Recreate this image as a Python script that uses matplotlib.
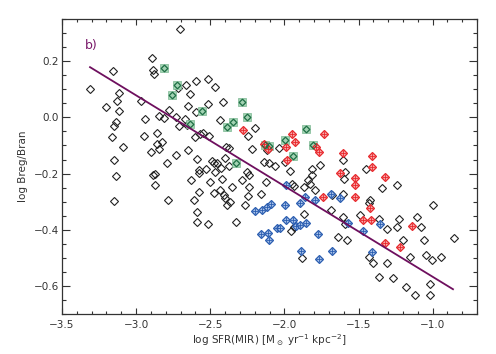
import numpy as np
import matplotlib.pyplot as plt

# black diamonds: galaxies without sub-selection
black_x = [-2.703, -2.895, -3.153, -2.887, -2.880, -3.311, -2.595, -2.518, -2.466, -2.666,
           -2.716, -2.640, -3.118, -3.130, -2.966, -3.206, -3.113, -2.779, -2.649, -2.517,
           -2.414, -2.595, -2.847, -2.811, -2.939, -2.730, -2.669, -2.437, -2.659, -3.135,
           -3.147, -3.166, -2.946, -2.860, -2.714, -2.605, -2.568, -2.551, -2.507, -3.091,
           -2.858, -2.824, -2.847, -2.897, -3.150, -2.730, -2.652, -2.791, -2.591, -3.133,
           -2.874, -2.885, -2.875, -2.632, -2.576, -3.147, -2.787, -2.608, -2.588, -2.578,
           -2.590, -2.518, -2.505, -2.478, -2.432, -2.419, -2.405, -2.370, -2.353, -2.326,
           -2.289, -2.264, -2.241, -2.196, -2.248, -2.392, -2.372, -2.218, -2.039, -2.117,
           -2.489, -2.478, -2.455, -2.399, -2.376, -2.426, -2.527, -2.579, -2.466, -2.252,
           -2.236, -2.140, -2.101, -2.061, -1.998, -1.813, -1.757, -1.813, -1.840, -2.124,
           -2.399, -2.248, -2.155, -1.937, -1.948, -1.824, -1.791, -1.865, -2.387, -1.959,
           -1.867, -1.678, -1.689, -1.937, -1.953, -1.878, -1.637, -1.581, -1.603, -1.592,
           -1.493, -1.424, -1.429, -1.345, -1.243, -1.363, -1.311, -1.240, -1.226, -1.105,
           -1.081, -0.997, -1.199, -1.057, -0.859, -1.432, -1.403, -1.311, -1.153, -1.047,
           -1.005, -0.946, -1.361, -1.266, -1.181, -1.017, -1.117, -1.017, -1.606, -1.588,
           -1.595, -1.453, -1.603]
black_y = [0.316, 0.210, 0.167, 0.169, 0.156, 0.101, 0.131, 0.137, 0.107, 0.115,
           0.104, 0.082, 0.087, 0.060, 0.058, 0.036, 0.023, 0.027, 0.041, 0.048,
           0.054, 0.018, 0.005, -0.003, -0.006, 0.001, -0.006, -0.010, -0.028, -0.018,
           -0.031, -0.069, -0.066, -0.057, -0.031, -0.069, -0.060, -0.057, -0.067, -0.106,
           -0.095, -0.086, -0.111, -0.123, -0.151, -0.135, -0.117, -0.164, -0.147, -0.209,
           -0.200, -0.205, -0.239, -0.222, -0.188, -0.298, -0.295, -0.294, -0.336, -0.266,
           -0.371, -0.379, -0.231, -0.268, -0.260, -0.218, -0.275, -0.300, -0.248, -0.371,
           -0.224, -0.313, -0.248, -0.036, -0.067, -0.105, -0.109, -0.111, -0.109, -0.117,
           -0.156, -0.162, -0.164, -0.144, -0.174, -0.180, -0.185, -0.199, -0.194, -0.194,
           -0.206, -0.159, -0.164, -0.173, -0.159, -0.182, -0.170, -0.206, -0.224, -0.230,
           -0.286, -0.280, -0.271, -0.245, -0.236, -0.236, -0.260, -0.343, -0.313, -0.191,
           -0.247, -0.278, -0.331, -0.391, -0.403, -0.501, -0.426, -0.436, -0.355, -0.379,
           -0.346, -0.293, -0.304, -0.251, -0.242, -0.361, -0.396, -0.392, -0.361, -0.355,
           -0.392, -0.311, -0.436, -0.438, -0.429, -0.498, -0.519, -0.518, -0.496, -0.491,
           -0.507, -0.496, -0.567, -0.572, -0.603, -0.594, -0.634, -0.632, -0.150, -0.196,
           -0.220, -0.182, -0.271]

green_x = [-2.814, -2.723, -2.757, -2.554, -2.287, -2.250, -2.347, -2.389, -2.634, -1.851,
           -1.997, -2.128, -2.105, -1.806, -1.941, -2.328]
green_y = [0.176, 0.115, 0.080, 0.024, 0.056, 0.001, -0.018, -0.034, -0.025, -0.042,
           -0.081, -0.097, -0.101, -0.098, -0.138, -0.163]

red_x = [-2.279, -1.951, -1.735, -1.928, -1.990, -2.137, -2.108, -1.785, -1.764, -1.984,
         -1.606, -1.412, -1.411, -1.624, -1.524, -1.322, -1.525, -1.525, -1.741, -1.424,
         -1.472, -1.414, -1.137, -1.320, -1.221]
red_y = [-0.046, -0.060, -0.060, -0.088, -0.105, -0.096, -0.114, -0.104, -0.122, -0.151,
         -0.127, -0.137, -0.178, -0.197, -0.217, -0.213, -0.241, -0.284, -0.284, -0.323,
         -0.367, -0.367, -0.388, -0.448, -0.460]

blue_x = [-1.990, -2.199, -2.151, -2.118, -2.088, -1.998, -1.897, -1.858, -1.791, -1.689,
          -1.626, -2.157, -2.110, -2.103, -2.053, -2.028, -1.986, -1.939, -1.919, -1.897,
          -1.855, -1.772, -1.890, -1.765, -1.682, -1.570, -1.472, -1.358, -1.407]
blue_y = [-0.241, -0.335, -0.331, -0.320, -0.310, -0.312, -0.304, -0.285, -0.293, -0.272,
          -0.286, -0.414, -0.410, -0.435, -0.393, -0.394, -0.366, -0.367, -0.388, -0.383,
          -0.376, -0.416, -0.475, -0.504, -0.476, -0.375, -0.405, -0.379, -0.479]

# linear fit
fit_range = [-3.311, -0.863]
fit_slope = -0.323
fit_intercept = -0.8905

plt.rcParams['font.family'] = 'DejaVu Sans'
fig = plt.figure(figsize=(4.96, 3.54), dpi=100, facecolor="white")
ax = fig.add_axes([0.125, 0.113, 0.837, 0.833])

ms = 3.8
ax.plot(black_x, black_y, linestyle="none", marker="D", markersize=ms,
        markerfacecolor="none", markeredgecolor="#222222", markeredgewidth=0.8, zorder=3)

ax.plot(green_x, green_y, linestyle="none", marker="s", markersize=5.8,
        markerfacecolor="#a3d3b3", markeredgecolor="#7cb893", markeredgewidth=0.5, zorder=4)
ax.plot(green_x, green_y, linestyle="none", marker="D", markersize=3.4,
        markerfacecolor="none", markeredgecolor="#1e6e45", markeredgewidth=0.9, zorder=5)

ax.plot(red_x, red_y, linestyle="none", marker="D", markersize=ms,
        markerfacecolor="#f6a9a9", markeredgecolor="#e8262b", markeredgewidth=0.9, zorder=4)
ax.plot(red_x, red_y, linestyle="none", marker="+", markersize=4,
        markeredgecolor="#e8262b", markeredgewidth=0.6, zorder=5)

ax.plot(blue_x, blue_y, linestyle="none", marker="D", markersize=ms,
        markerfacecolor="#a9c2e8", markeredgecolor="#2a5db0", markeredgewidth=0.9, zorder=4)
ax.plot(blue_x, blue_y, linestyle="none", marker="+", markersize=4,
        markeredgecolor="#2a5db0", markeredgewidth=0.6, zorder=5)

fx = np.array(fit_range)
ax.plot(fx, fit_slope * fx + fit_intercept, color="#6e0f5e", linewidth=1.3, zorder=6)

ax.text(0.055, 0.912, "b)", transform=ax.transAxes, color="#7a1a6a", fontsize=9,
        ha="left", va="center")

ax.set_xlim(-3.5, -0.7)
ax.set_ylim(-0.7, 0.35)
ax.set_xticks([-3.5, -3.0, -2.5, -2.0, -1.5, -1.0])
ax.set_xticklabels(["\u22123.5", "\u22123.0", "\u22122.5", "\u22122.0", "\u22121.5", "\u22121.0"])
ax.set_yticks([-0.6, -0.4, -0.2, 0.0, 0.2])
ax.set_yticklabels(["\u22120.6", "\u22120.4", "\u22120.2", "0.0", "0.2"])
ax.set_xticks(np.arange(-3.5, -0.69, 0.1), minor=True)
ax.set_yticks(np.arange(-0.7, 0.351, 0.05), minor=True)

ax.tick_params(which="both", direction="in", top=True, right=True, colors="#333333",
               labelsize=7.5, width=0.8)
ax.tick_params(axis="x", which="major", length=4.5, pad=4)
ax.tick_params(axis="x", which="minor", length=2.2)
ax.tick_params(axis="y", which="major", length=5.5, pad=2)
ax.tick_params(axis="y", which="minor", length=2.8)
for s in ax.spines.values():
    s.set_color("#333333")
    s.set_linewidth(0.9)

ax.set_xlabel(r"log SFR(MIR) [M$_\odot$ yr$^{-1}$ kpc$^{-2}$]", fontsize=7.5, color="#333333", labelpad=2)
ax.set_ylabel("log Breg/Bran", fontsize=7.5, color="#333333", labelpad=4)

plt.savefig("out.png", dpi=100, facecolor="white")
